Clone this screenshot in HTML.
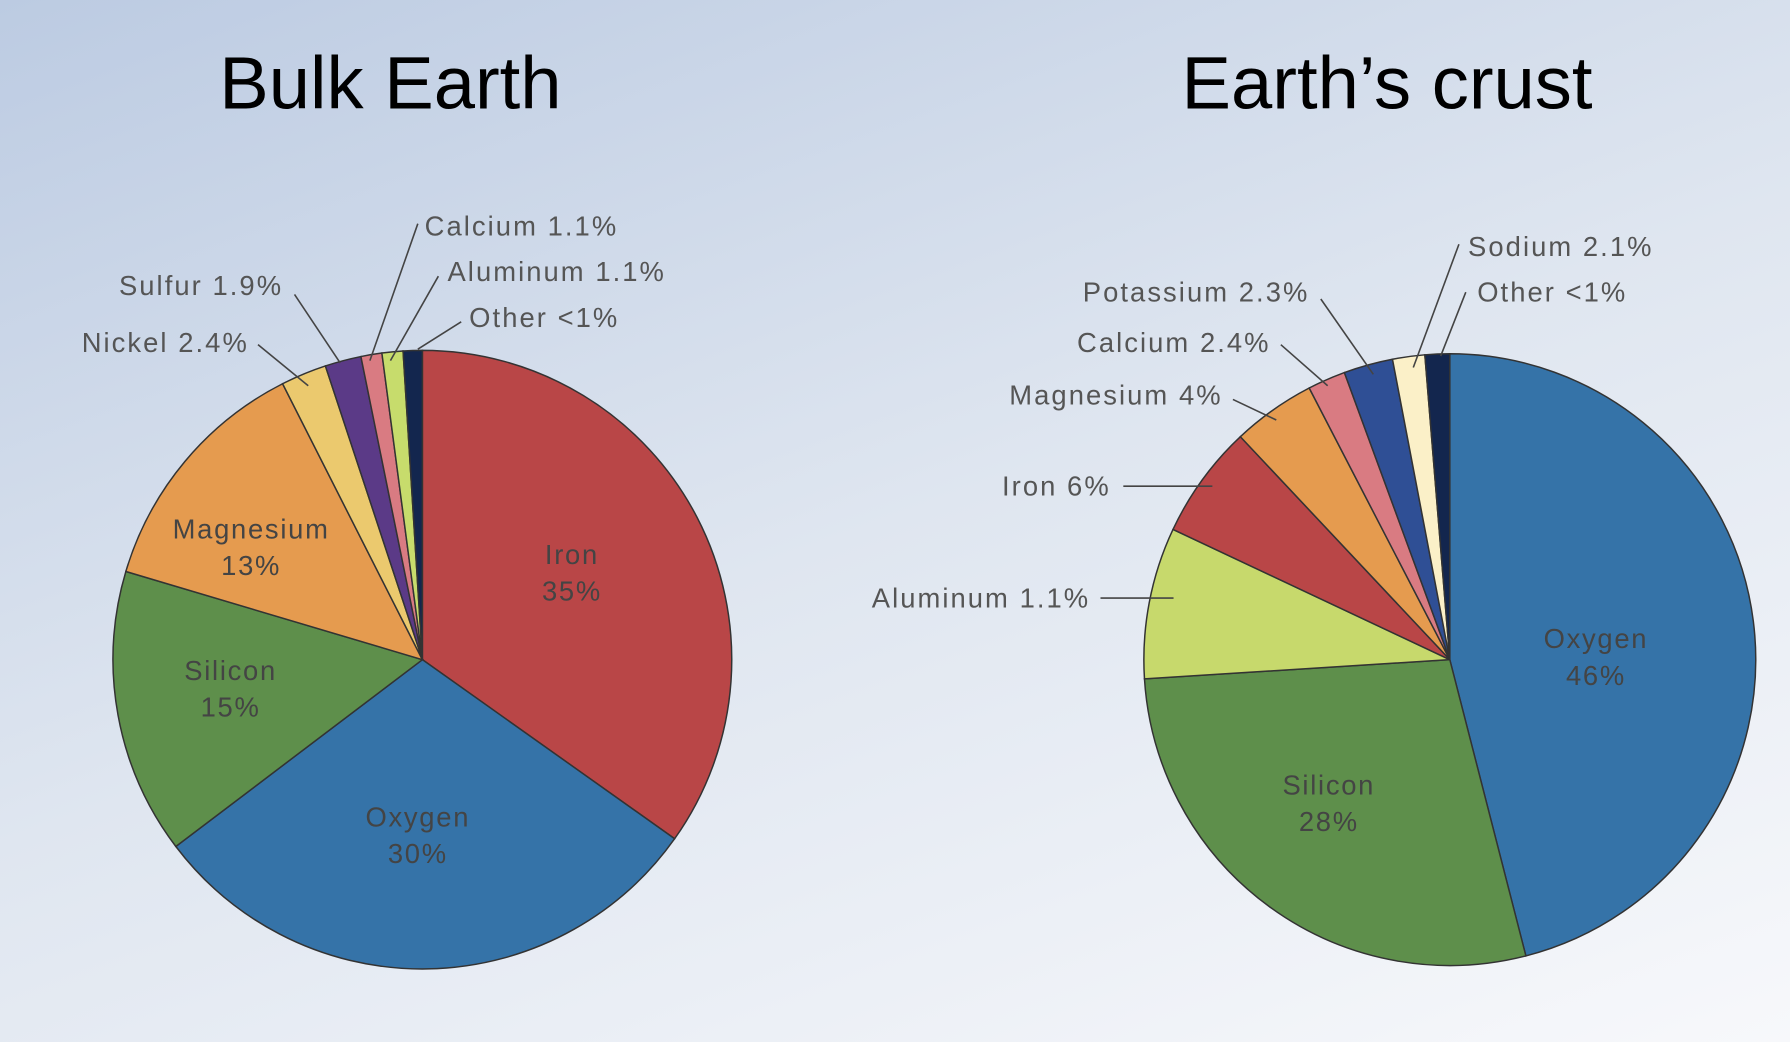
<!DOCTYPE html>
<html><head><meta charset="utf-8"><style>
html,body{margin:0;padding:0;width:1790px;height:1042px;overflow:hidden}
body{background:linear-gradient(160deg,#bccbe2 0%,#dfe6f0 50%,#f7f8fb 100%)}
svg{display:block}
text{font-family:"Liberation Sans",sans-serif}
</style></head><body>
<svg id="chart" width="1790" height="1042" viewBox="0 0 1568 913" preserveAspectRatio="none">
<text x="342" y="95" font-size="65" text-anchor="middle" fill="#000">Bulk Earth</text>
<text x="1215" y="95" font-size="65" text-anchor="middle" fill="#000">Earth’s crust</text>
<g id="left"></g><g id="right"></g>
</svg>
<script>
const bulkNames=["Iron","Oxygen","Silicon","Magnesium","Nickel","Sulfur","Calcium","Aluminum","Other"];
const bulkValues=[35,30,15,13,2.4,1.9,1.1,1.1,1.0];
const bulkLabels=["Iron|35%","Oxygen|30%","Silicon|15%","Magnesium|13%","Nickel 2.4%","Sulfur 1.9%","Calcium 1.1%","Aluminum 1.1%","Other <1%"];
const bulkColors=["#b94647","#3573a8","#5e8f4b","#e59b4f","#ebc96e","#5b3a87","#d97b82","#c7dc6c","#13264e"];
const crustNames=["Oxygen","Silicon","Aluminum","Iron","Magnesium","Calcium","Potassium","Sodium","Other"];
const crustValues=[46,28,8,6,4.4,2,2.6,1.7,1.3];
const crustLabels=["Oxygen|46%","Silicon|28%","Aluminum 1.1%","Iron 6%","Magnesium 4%","Calcium 2.4%","Potassium 2.3%","Sodium 2.1%","Other <1%"];
const crustColors=["#3573a8","#5e8f4b","#c7d96c","#b94647","#e59b4f","#d97b82","#2f4f95","#fbf0c8","#13264e"];
const bulkPlace=[{x:501,y:500},{x:366,y:730},{x:202,y:602},{x:220,y:478},
 {tx:218,ty:300,a:"end",l:[226,302,270,338]},{tx:248,ty:250,a:"end",l:[258,258,298,318]},
 {tx:372,ty:198,a:"start",l:[366,196,324,316]},{tx:392,ty:238,a:"start",l:[384,242,342,316]},
 {tx:411,ty:278,a:"start",l:[404,282,366,306]}];
const crustPlace=[{x:1398,y:574},{x:1164,y:702},
 {tx:955,ty:524,a:"end",l:[964,524,1028,524]},{tx:973,ty:426,a:"end",l:[984,426,1062,426]},
 {tx:1071,ty:346,a:"end",l:[1080,350,1118,368]},{tx:1113,ty:300,a:"end",l:[1122,302,1163,338]},
 {tx:1147,ty:256,a:"end",l:[1157,262,1203,328]},{tx:1286,ty:216,a:"start",l:[1278,214,1238,322]},
 {tx:1294,ty:256,a:"start",l:[1284,256,1262,312]}];
const NS="http://www.w3.org/2000/svg";
function mk(t,at){const e=document.createElementNS(NS,t);for(const k in at)e.setAttribute(k,at[k]);return e;}
function pie(g,prefix,cx,cy,r,names,vals,labels,colors,place){
  const total=vals.reduce((a,b)=>a+b,0);let acc=0;
  vals.forEach((v,i)=>{
    const a0=acc/total*2*Math.PI;acc+=v;const a1=acc/total*2*Math.PI;
    const x0=cx+r*Math.sin(a0),y0=cy-r*Math.cos(a0),x1=cx+r*Math.sin(a1),y1=cy-r*Math.cos(a1);
    const large=(a1-a0)>Math.PI?1:0;
    const p=mk("path",{d:`M${cx},${cy}L${x0},${y0}A${r},${r} 0 ${large} 1 ${x1},${y1}Z`,fill:colors[i],stroke:"#333","stroke-width":1.3});
    
    
    g.appendChild(p);
  });
  labels.forEach((lb,i)=>{
    const pl=place[i];
    if(pl.l){
      const ln=mk("line",{x1:pl.l[0],y1:pl.l[1],x2:pl.l[2],y2:pl.l[3],stroke:"#444","stroke-width":1.4});
      
      
      g.appendChild(ln);
      const t=mk("text",{x:pl.tx,y:pl.ty,"font-size":24,"letter-spacing":1.8,fill:"#555","text-anchor":pl.a,"dominant-baseline":"central"});
      t.textContent=lb;
      
      
      g.appendChild(t);
    } else {
      const parts=lb.split("|");
      const t=mk("text",{x:pl.x,y:pl.y,"font-size":24,"letter-spacing":1.5,fill:"#444","text-anchor":"middle"});
      parts.forEach((s,j)=>{const ts=mk("tspan",{x:pl.x,dy:j==0?-6:32});ts.textContent=s;t.appendChild(ts);});
      
      
      g.appendChild(t);
    }
  });
}
pie(document.getElementById("left"),"bulk",370,578,271,bulkNames,bulkValues,bulkLabels,bulkColors,bulkPlace);
pie(document.getElementById("right"),"crust",1270,578,268,crustNames,crustValues,crustLabels,crustColors,crustPlace);
</script>
</body></html>
